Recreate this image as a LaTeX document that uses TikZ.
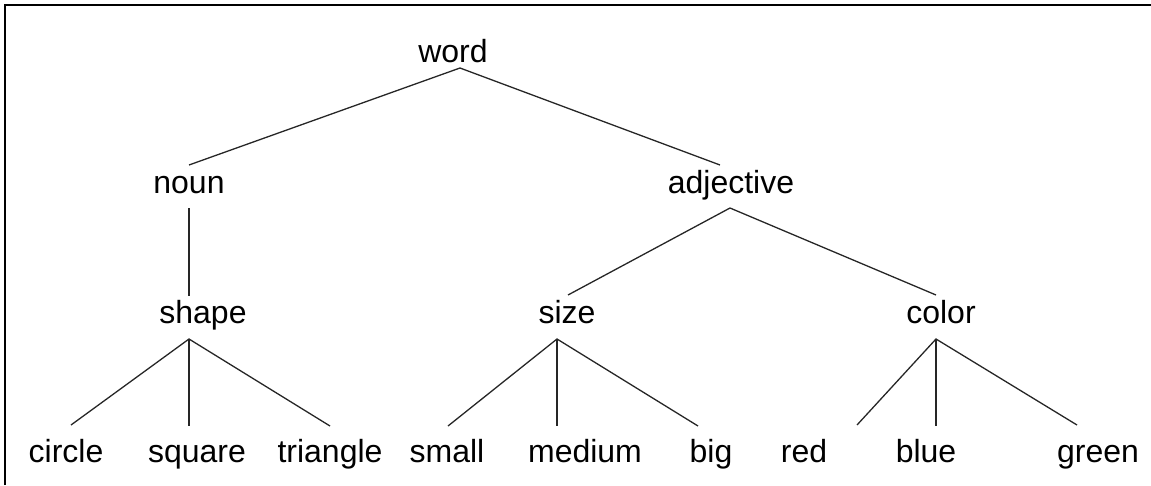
\documentclass[tikz,border=0pt]{standalone}
\usepackage{fontspec}
\setmainfont{Liberation Sans}
\begin{document}
\begin{tikzpicture}[x=1pt,y=-1pt,
  lbl/.style={anchor=base,inner sep=0pt,font=\fontsize{32}{38}\selectfont},
  edge/.style={draw=black!85,line width=1.3pt},
  frame/.style={draw=black,line width=2.2pt}]
\useasboundingbox (0,0) rectangle (1151,485);
% frame (only top and left edges visible)
\draw[frame] (5,485) -- (5,5) -- (1151,5);
% labels
\node[lbl] (word) at (453,62) {word};
\node[lbl] (noun) at (189,193) {noun};
\node[lbl] (adjective) at (731,193) {adjective};
\node[lbl] (shape) at (203,323) {shape};
\node[lbl] (size) at (567,323) {size};
\node[lbl] (color) at (941,323) {color};
\node[lbl] (circle) at (66,462) {circle};
\node[lbl] (square) at (197,462) {square};
\node[lbl] (triangle) at (330,462) {triangle};
\node[lbl] (small) at (447,462) {small};
\node[lbl] (medium) at (585,462) {medium};
\node[lbl] (big) at (711,462) {big};
\node[lbl] (red) at (804,462) {red};
\node[lbl] (blue) at (926,462) {blue};
\node[lbl] (green) at (1098,462) {green};
% connector end points
\coordinate (word-b) at (460,68);
\coordinate (noun-t) at (189,165);
\coordinate (noun-b) at (189,208);
\coordinate (adjective-t) at (720,165);
\coordinate (adjective-b) at (730,208);
\coordinate (shape-t) at (189,296);
\coordinate (shape-b) at (189,339);
\coordinate (size-t) at (568,295);
\coordinate (size-b) at (557,339);
\coordinate (color-t) at (936,295);
\coordinate (color-b) at (936,339);
\coordinate (circle-t) at (71,425);
\coordinate (square-t) at (189,426);
\coordinate (triangle-t) at (330,426);
\coordinate (small-t) at (448,426);
\coordinate (medium-t) at (557,426);
\coordinate (big-t) at (698,426);
\coordinate (red-t) at (857,425);
\coordinate (blue-t) at (936,426);
\coordinate (green-t) at (1077,425);
% connectors
\draw[edge] (noun-t) -- (word-b) -- (adjective-t);
\draw[edge] (noun-b) -- (shape-t);
\draw[edge] (size-t) -- (adjective-b) -- (color-t);
\draw[edge] (circle-t) -- (shape-b) -- (triangle-t);
\draw[edge] (shape-b) -- (square-t);
\draw[edge] (small-t) -- (size-b) -- (big-t);
\draw[edge] (size-b) -- (medium-t);
\draw[edge] (red-t) -- (color-b) -- (green-t);
\draw[edge] (color-b) -- (blue-t);
\end{tikzpicture}
\end{document}
